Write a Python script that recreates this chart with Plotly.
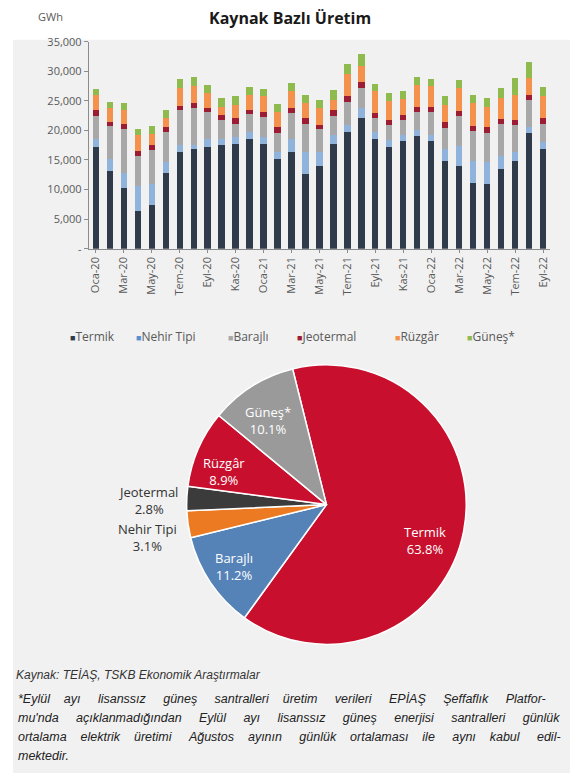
import plotly.graph_objects as go

# ---------------- data ----------------
months = ["Oca-20", "Şub-20", "Mar-20", "Nis-20", "May-20", "Haz-20", "Tem-20", "Ağu-20", "Eyl-20", "Eki-20", "Kas-20", "Ara-20",
          "Oca-21", "Şub-21", "Mar-21", "Nis-21", "May-21", "Haz-21", "Tem-21", "Ağu-21", "Eyl-21", "Eki-21", "Kas-21", "Ara-21",
          "Oca-22", "Şub-22", "Mar-22", "Nis-22", "May-22", "Haz-22", "Tem-22", "Ağu-22", "Eyl-22"]
tick_labels = months[::2]

termik = [17160, 13160, 10300, 6300, 7430, 12870, 16300, 16870, 17160, 17550, 17730, 18590,
          17730, 15150, 16300, 12580, 14020, 17730, 19730, 22140, 18600, 17160, 18140, 19000,
          18140, 14880, 14020, 11150, 10860, 13440, 14880, 19610, 16870]
nehir_tipi = [1430, 1990, 2570, 4290, 3430, 1720, 1150, 580, 1430, 1040, 1140, 1140,
              1140, 1150, 2290, 3720, 2280, 1430, 1150, 1590, 1100, 1150, 1020, 1020,
              1020, 1990, 3300, 3730, 3730, 2290, 1420, 980, 1150]
barajli = [3890, 5610, 7430, 5140, 5900, 5140, 6000, 6280, 4460, 3150, 2290, 3000,
           3440, 3310, 4280, 4860, 3890, 3320, 4000, 3430, 2400, 2570, 2580, 3150,
           4010, 3550, 5160, 4970, 5020, 5430, 4690, 4580, 3140]
jeotermal = [970, 690, 850, 860, 690, 860, 700, 860, 700, 860, 860, 750,
             860, 980, 860, 860, 690, 970, 860, 1000, 910, 800, 860, 850,
             850, 1030, 810, 910, 980, 800, 750, 860, 860]
ruzgar = [2460, 2280, 2300, 2570, 2000, 1430, 3000, 2870, 2560, 1420, 2290, 2550,
          2570, 2580, 2870, 2570, 2850, 1720, 3720, 2730, 3590, 3320, 2740, 3730,
          3440, 2860, 3870, 3830, 3430, 3490, 4290, 2850, 3720]
gunes = [1150, 1030, 1140, 1030, 1310, 1430, 1560, 1540, 1440, 1430, 1430, 1250,
         1250, 1250, 1420, 1440, 1440, 1720, 1720, 2010, 1250, 1310, 1380, 1250,
         1320, 1430, 1440, 1440, 1430, 1710, 2850, 2750, 1540]

y_tick_vals = [0, 5000, 10000, 15000, 20000, 25000, 30000, 35000]
y_tick_text = ["-", "5,000", "10,000", "15,000", "20,000", "25,000", "30,000", "35,000"]

series_names = ["Termik", "Nehir Tipi", "Barajlı", "Jeotermal", "Rüzgâr", "Güneş*"]
series_values = [termik, nehir_tipi, barajli, jeotermal, ruzgar, gunes]

pie_labels = ["Termik", "Barajlı", "Nehir Tipi", "Jeotermal", "Rüzgâr", "Güneş*"]
pie_values = [63.8, 11.2, 3.1, 2.8, 8.9, 10.1]

title_text = "Kaynak Bazlı Üretim"
unit_text = "GWh"
source_text = "Kaynak: TEİAŞ, TSKB Ekonomik Araştırmalar"
note_lines = [
    "*Eylül ayı lisanssız güneş santralleri üretim verileri EPİAŞ Şeffaflık Platfor-",
    "mu'nda açıklanmadığından Eylül ayı lisanssız güneş enerjisi santralleri günlük",
    "ortalama elektrik üretimi Ağustos ayının günlük ortalaması ile aynı kabul edil-",
    "mektedir.",
]

# ---------------- styles ----------------
W, H = 578, 780
Y_FIX, Y_SCALE = 330, 0.981  # empirical vertical correction
bar_colors = ["#2f3b4b", "#8fb3da", "#a8a8a8", "#9b1c33", "#f4914c", "#8fba4e"]
legend_colors = ["#2f3b4b", "#5b8fcf", "#a8a8a8", "#9b1c33", "#f4914c", "#8fba4e"]
pie_colors = ["#c8102e", "#5583b8", "#ec7a22", "#3b3b3b", "#c8102e", "#9a9a9a"]
pie_label_pos = [(425, 539), (233, 565), (147, 536), (147, 499), (223, 470), (267, 419)]
pie_label_color = ["white", "white", "#333333", "#333333", "white", "white"]
FONT = "'Open Sans', Lato, sans-serif"
NOTE_FONT = "'Liberation Sans', Arial, sans-serif"
GREY = "#595959"


def px(x):
    return x / W


def py(y):
    y = Y_FIX + (y - Y_FIX) / Y_SCALE
    return 1 - y / H


def justify(line, n_extra):
    words = line.split(" ")
    gaps = len(words) - 1
    if gaps <= 0 or n_extra <= 0:
        return line
    out = words[0]
    for i, w in enumerate(words[1:]):
        k = (n_extra * (i + 1)) // gaps - (n_extra * i) // gaps
        out += " " + "\u00a0" * k + w
    return out


fig = go.Figure()

for name, vals, col in zip(series_names, series_values, bar_colors):
    fig.add_trace(go.Bar(x=months, y=vals, name=name, marker=dict(color=col, line=dict(width=0)),
                         showlegend=False, xaxis="x", yaxis="y"))

fig.add_trace(go.Pie(
    labels=pie_labels, values=pie_values, sort=False, direction="clockwise", rotation=-14,
    marker=dict(colors=pie_colors, line=dict(color="white", width=1.5)),
    textinfo="none",
    domain=dict(x=[px(186), px(466)], y=[py(643), py(363)]),
    showlegend=False,
))

annotations = [
    dict(text=f"<b>{title_text}</b>", x=px(290), y=py(16), xref="paper", yref="paper",
         showarrow=False, font=dict(size=16, color="#1a1a1a", family=FONT), xanchor="center", yanchor="middle"),
    dict(text=unit_text, x=px(50), y=py(15), xref="paper", yref="paper",
         showarrow=False, font=dict(size=11, color=GREY, family=FONT), xanchor="center", yanchor="middle"),
    dict(text=f"<i>{source_text}</i>", x=px(13), y=py(673), xref="paper", yref="paper",
         showarrow=False, font=dict(size=12, color="#333333", family=NOTE_FONT),
         xanchor="left", yanchor="middle"),
]

note_extra = [34, 32, 34, 0]
note_y = [697, 716, 735, 754]
for line, extra, ly in zip(note_lines, note_extra, note_y):
    annotations.append(dict(
        text=f"<i>{justify(line, extra)}</i>", x=px(15), y=py(ly), xref="paper", yref="paper",
        showarrow=False, font=dict(size=12.5, color="#222222", family=NOTE_FONT),
        xanchor="left", yanchor="middle"))

for lab, val, (lx, ly), col in zip(pie_labels, pie_values, pie_label_pos, pie_label_color):
    annotations.append(dict(
        text=f"{lab}<br>{val:.1f}%", x=px(lx), y=py(ly), xref="paper", yref="paper",
        showarrow=False, align="center", font=dict(size=13, color=col, family=FONT),
        xanchor="center", yanchor="middle"))

legend_x = [67, 133, 225, 295, 393, 465]
for name, col, lx in zip(series_names, legend_colors, legend_x):
    annotations.append(dict(
        text=f'<span style="color:{col};font-size:9px">■</span>{name}',
        x=px(lx), y=py(335), xref="paper", yref="paper", showarrow=False,
        font=dict(size=12, color=GREY, family=FONT), xanchor="left", yanchor="middle"))

fig.update_layout(
    width=W, height=H,
    margin=dict(l=0, r=0, t=0, b=0),
    paper_bgcolor="white", plot_bgcolor="rgba(0,0,0,0)",
    barmode="stack", bargap=0.55, hovermode=False,
    font=dict(family=FONT, color=GREY),
    xaxis=dict(domain=[px(88), px(550)], type="category", tickmode="array",
               tickvals=tick_labels, ticktext=tick_labels, tickangle=-90,
               showline=True, linecolor="#8c8c8c", linewidth=1, ticks="outside", ticklen=3,
               tickcolor="#8c8c8c", tickfont=dict(size=11, color=GREY), showgrid=False, fixedrange=True),
    yaxis=dict(domain=[py(247), py(40)], range=[0, 35000], tickmode="array",
               tickvals=y_tick_vals, ticktext=y_tick_text, fixedrange=True,
               showline=True, linecolor="#8c8c8c", linewidth=1, ticks="outside", ticklen=4,
               tickcolor="#8c8c8c", tickfont=dict(size=11, color=GREY), showgrid=False, zeroline=False),
    shapes=[dict(type="rect", xref="paper", yref="paper", x0=px(12), x1=px(570), y0=0, y1=py(38),
                 fillcolor="#f1f1f1", line=dict(width=0), layer="below")],
    annotations=annotations,
)

fig.write_html("out.html", config={"displayModeBar": False},
               post_script="document.body.style.margin='0';")
